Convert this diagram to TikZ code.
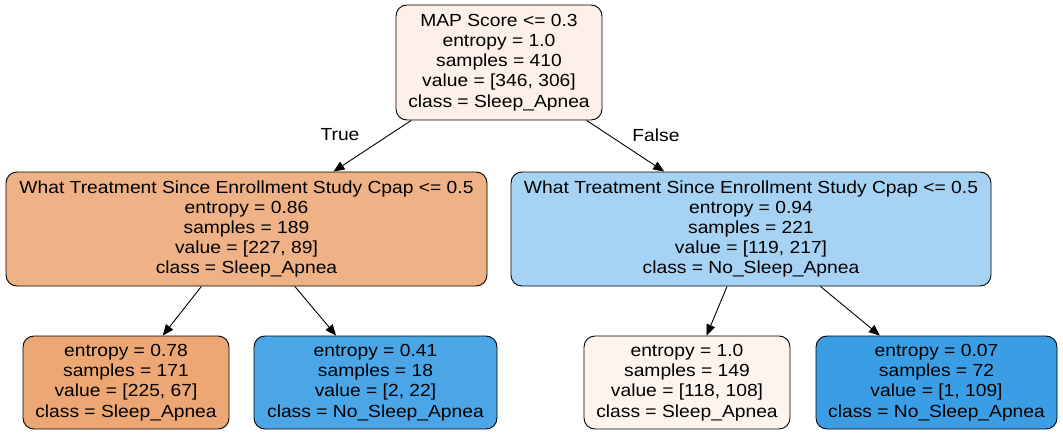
\documentclass[tikz,border=0pt]{standalone}
\usepackage{fontspec}
\setmainfont[FakeStretch=1.1]{Liberation Sans}
\usetikzlibrary{arrows.meta}
\definecolor{cRoot}{HTML}{FCF0E8}
\definecolor{cLM}{HTML}{EFB287}
\definecolor{cRM}{HTML}{A6D3F3}
\definecolor{cLL}{HTML}{EDA774}
\definecolor{cLR}{HTML}{4BA6E7}
\definecolor{cRL}{HTML}{FDF4EE}
\definecolor{cRR}{HTML}{3B9EE5}
\tikzset{
  treenode/.style={draw=black, line width=0.9pt, rounded corners=11pt, align=center,
    inner sep=0pt, font=\fontsize{17.5}{20.2}\selectfont},
  edge/.style={draw=black, line width=0.9pt, -{Triangle[length=11pt,width=9pt]}},
  edgelabel/.style={font=\fontsize{17.5}{19}\selectfont}
}
\begin{document}
\begin{tikzpicture}[x=1pt,y=-1pt]
\useasboundingbox (0,0) rectangle (1063,436);
\node[treenode, fill=cRoot, minimum width=206pt, minimum height=115pt] (root) at (499,62.5)
  {MAP Score <= 0.3\\entropy = 1.0\\samples = 410\\value = [346, 306]\\class = Sleep\_Apnea};
\node[treenode, fill=cLM, minimum width=481pt, minimum height=114pt] (lm) at (246.5,229)
  {What Treatment Since Enrollment Study Cpap <= 0.5\\entropy = 0.86\\samples = 189\\value = [227, 89]\\class = Sleep\_Apnea};
\node[treenode, fill=cRM, minimum width=480pt, minimum height=114pt] (rm) at (751,229)
  {What Treatment Since Enrollment Study Cpap <= 0.5\\entropy = 0.94\\samples = 221\\value = [119, 217]\\class = No\_Sleep\_Apnea};
\node[treenode, fill=cLL, minimum width=206pt, minimum height=93pt] (ll) at (126,382.5)
  {entropy = 0.78\\samples = 171\\value = [225, 67]\\class = Sleep\_Apnea};
\node[treenode, fill=cLR, minimum width=243pt, minimum height=93pt] (lr) at (375.5,382.5)
  {entropy = 0.41\\samples = 18\\value = [2, 22]\\class = No\_Sleep\_Apnea};
\node[treenode, fill=cRL, minimum width=206pt, minimum height=93pt] (rl) at (687,382.5)
  {entropy = 1.0\\samples = 149\\value = [118, 108]\\class = Sleep\_Apnea};
\node[treenode, fill=cRR, minimum width=241pt, minimum height=93pt] (rr) at (936.5,382.5)
  {entropy = 0.07\\samples = 72\\value = [1, 109]\\class = No\_Sleep\_Apnea};
\draw[edge] (root) -- (lm);
\draw[edge] (root) -- (rm);
\draw[edge] (lm) -- (ll);
\draw[edge] (lm) -- (lr);
\draw[edge] (rm) -- (rl);
\draw[edge] (rm) -- (rr);
\node[edgelabel] (tlab) at (340,135) {True};
\node[edgelabel] (flab) at (656,135) {False};
\end{tikzpicture}
\end{document}
